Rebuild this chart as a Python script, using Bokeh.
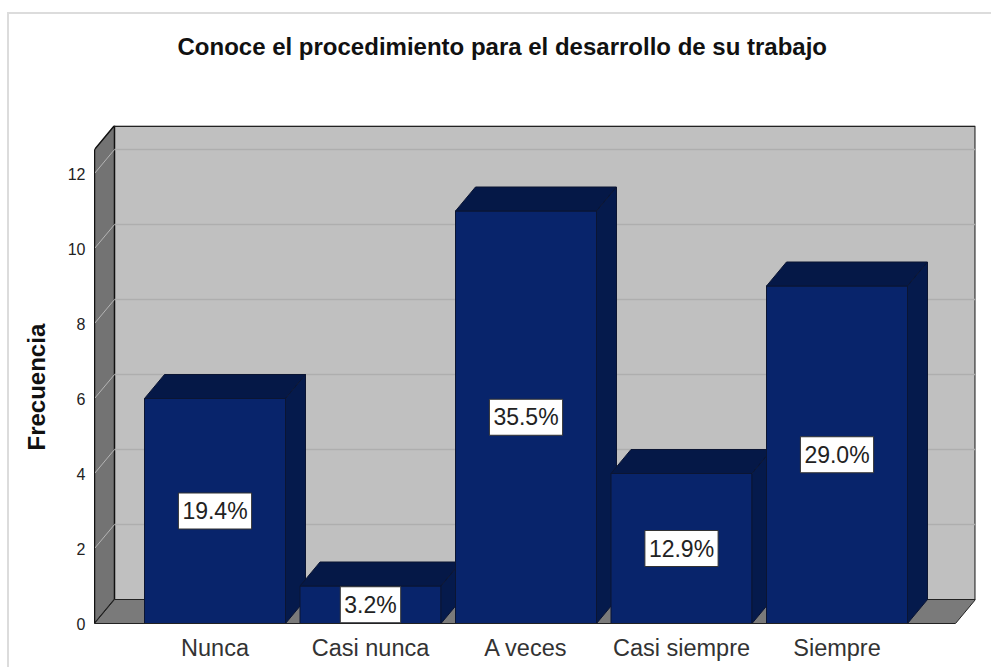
from bokeh.plotting import figure
from bokeh.models import Range1d, FixedTicker, ColumnDataSource, Title
from bokeh.core.properties import value
from bokeh.embed import file_html
from bokeh.resources import INLINE

title = "Conoce el procedimiento para el desarrollo de su trabajo"
ylabel = "Frecuencia"
categories = ["Nunca", "Casi nunca", "A veces", "Casi siempre", "Siempre"]
freq = [6, 1, 11, 4, 9]
percent = ["19.4%", "3.2%", "35.5%", "12.9%", "29.0%"]
yticks = [0, 2, 4, 6, 8, 10, 12]

FONT = "Liberation Sans"
W, H = 984, 656
FL, FT = 85, 111
plot_w, plot_h = 881, 498
PX_Y = 37.5
PX_X = 155.5
x0 = 1 - (214.5 - 94) / PX_X
x1 = x0 + plot_w / PX_X
y1 = plot_h / PX_Y
DX = 20 / PX_X
DY = 24 / PX_Y
HALF = 70.5 / PX_X

p = figure(width=W, height=H, output_backend="svg", toolbar_location=None,
           x_range=Range1d(x0, x1), y_range=Range1d(0, y1),
           frame_width=plot_w, frame_height=plot_h,
           min_border_left=FL, min_border_right=16, min_border_top=FT, min_border_bottom=44,
           background_fill_color="white", border_fill_color="white")
p.margin = (12, 0, 0, 7)
p.styles = {"border-top": "2px solid #dcdcdc", "border-left": "2px solid #dcdcdc", "box-sizing": "border-box"}
p.outline_line_color = None
p.grid.visible = False

# walls and floor
p.patch([x0 + DX, x1, x1, x0 + DX], [DY, DY, y1, y1], fill_color="#c0c0c0", line_color=None)
p.patch([x0, x0 + DX, x0 + DX, x0], [0, DY, y1, y1 - DY], fill_color="#737373", line_color="#111111", line_width=1.5)
p.patch([x0, x1 - DX, x1, x0 + DX], [0, 0, DY, DY], fill_color="#7a7a7a", line_color="#222222", line_width=1)
p.line([x0 + DX, x1 - 0.002, x1 - 0.002], [y1 - 0.02, y1 - 0.02, DY], line_color="#222222", line_width=1.5)

# gridlines
for t in yticks[1:]:
    p.line([x0 + DX, x1], [t + DY, t + DY], line_color="#aeaeae", line_width=1.5)
    p.line([x0, x0 + DX], [t, t + DY], line_color="#b4b4b4", line_width=1)

# bars
xs, ys, cols = [], [], []
for i, v in enumerate(freq):
    c = i + 1
    l, r = c - HALF, c + HALF
    xs += [[l, r, r, l], [l, r, r + DX, l + DX], [r, r + DX, r + DX, r]]
    ys += [[0, 0, v, v], [v, v, v + DY, v + DY], [0, DY, v + DY, v]]
    cols += ["#08246b", "#051847", "#051a4c"]
p.patches("xs", "ys", fill_color="cols", line_color="#0b1533", line_width=1,
          source=ColumnDataSource(dict(xs=xs, ys=ys, cols=cols)))

# percentage labels
p.text(x=[i + 1 for i in range(5)], y=[v / 2 for v in freq], text=percent,
       text_font=value(FONT), text_font_size="23px", text_color="#222222",
       text_align="center", text_baseline="middle",
       background_fill_color="white", border_line_color="#333333", padding=[4, 5])

# axes
p.xaxis.ticker = FixedTicker(ticks=[1, 2, 3, 4, 5])
p.xaxis.major_label_overrides = {i + 1: c for i, c in enumerate(categories)}
p.xaxis.bounds = (x0, x1 - DX)
p.xaxis.major_tick_line_color = None
p.xaxis.minor_tick_line_color = None
p.xaxis.axis_line_color = "#222222"
p.xaxis.major_label_text_font = FONT
p.xaxis.major_label_text_font_size = "23.5px"
p.xaxis.major_label_text_color = "#333333"
p.xaxis.major_label_standoff = 5

p.yaxis.ticker = FixedTicker(ticks=yticks)
p.yaxis.bounds = (0, y1 - DY)
p.yaxis.major_tick_line_color = None
p.yaxis.minor_tick_line_color = None
p.yaxis.axis_line_color = "#111111"
p.yaxis.major_label_text_font = FONT
p.yaxis.major_label_text_font_size = "16px"
p.yaxis.major_label_text_color = "#222222"
p.yaxis.major_label_standoff = 3

p.add_layout(Title(text=ylabel, align="left", offset=173, standoff=25, vertical_align="top",
                   text_font=FONT, text_font_size="24px", text_font_style="bold",
                   text_color="#111111"), "left")

p.title.text = title
p.title.text_font = FONT
p.title.text_font_size = "24px"
p.title.text_font_style = "bold"
p.title.text_color = "#111111"
p.title.align = "left"
p.title.offset = 83
p.title.standoff = 0
p.add_layout(Title(text="\u00a0", text_font_size="10px", standoff=53), "above")

open("out.html", "w").write(file_html(p, INLINE))
